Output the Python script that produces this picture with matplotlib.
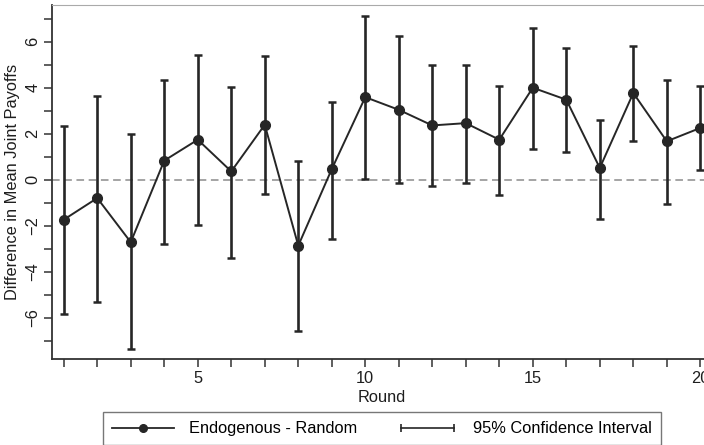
import numpy as np
import matplotlib
matplotlib.use("Agg")
import matplotlib.pyplot as plt
from matplotlib.lines import Line2D
from matplotlib.legend_handler import HandlerLine2D

plt.rcParams['font.family'] = ['Liberation Sans', 'DejaVu Sans']

# Endogenous - Random, difference in mean joint payoffs by round
rounds = np.arange(1, 21)
diff = [-1.74, -0.80, -2.72, 0.83, 1.74, 0.36, 2.39, -2.87, 0.46, 3.59,
        3.04, 2.36, 2.46, 1.74, 4.00, 3.48, 0.51, 3.77, 1.67, 2.25]
ci_high = [2.35, 3.62, 2.00, 4.35, 5.42, 4.03, 5.36, 0.83, 3.36, 7.13,
           6.26, 4.99, 5.01, 4.06, 6.62, 5.71, 2.61, 5.81, 4.32, 4.06]
ci_low = [-5.84, -5.30, -7.36, -2.80, -1.99, -3.41, -0.61, -6.60, -2.58, 0.04,
          -0.14, -0.26, -0.14, -0.68, 1.32, 1.19, -1.70, 1.67, -1.06, 0.41]

col = '#262626'
fs = 11.8
fig = plt.figure(figsize=(7.04, 4.45), dpi=100)
ax = fig.add_axes([0.0739, 0.1933, 0.9375, 0.7955])

ax.axhline(0, color='#8c8c8c', lw=1.1, ls=(0, (5, 3)), zorder=1)
ax.vlines(rounds, ci_low, ci_high, color=col, lw=1.9, zorder=2)
ax.plot(rounds, ci_low, ls='none', marker='_', ms=6, mew=1.8, color=col, zorder=2)
ax.plot(rounds, ci_high, ls='none', marker='_', ms=6, mew=1.8, color=col, zorder=2)
ax.plot(rounds, diff, color=col, lw=1.4, marker='o', ms=7, zorder=3)

ax.set_xlim(0.65, 20.35)
ax.set_ylim(-7.8, 7.6)
ax.set_xticks([5, 10, 15, 20])
ax.set_xticks(rounds, minor=True)
ax.set_yticks([-6, -4, -2, 0, 2, 4, 6])
ax.set_yticks([-7, -5, -3, -1, 1, 3, 5, 7], minor=True)
ax.tick_params(which='both', direction='out', length=5.5, width=1.1, color='#333333',
               labelsize=fs, labelcolor='#1e1e1e', pad=3)
for lab in ax.get_yticklabels():
    lab.set_rotation(90)
    lab.set_va('center')
ax.set_xlabel('Round', fontsize=fs, labelpad=3, color='#1e1e1e')
ax.set_ylabel('Difference in Mean Joint Payoffs', fontsize=fs, labelpad=4, color='#1e1e1e')

for s in ['left', 'bottom']:
    ax.spines[s].set_color('#333333')
    ax.spines[s].set_linewidth(1.3)
ax.spines['top'].set_color('#aaaaaa')
ax.spines['right'].set_visible(False)

h1 = Line2D([0, 1], [0, 0], color=col, lw=1.3, marker='o', ms=5.5)
h2 = Line2D([0, 1], [0, 0], color=col, lw=1.2, marker='|', ms=6, mew=1.2)
leg = fig.legend([h1, h2], ['Endogenous - Random', '95% Confidence Interval'],
                 loc='center', bbox_to_anchor=(0.5426, 0.036), ncol=2,
                 frameon=True, fancybox=False, edgecolor='#555555',
                 fontsize=fs, handlelength=3.8, columnspacing=2.4,
                 handletextpad=0.9, borderpad=0.55,
                 handler_map={h2: HandlerLine2D(numpoints=2)})
leg.get_frame().set_linewidth(1.0)

fig.savefig('out.png', dpi=100)
